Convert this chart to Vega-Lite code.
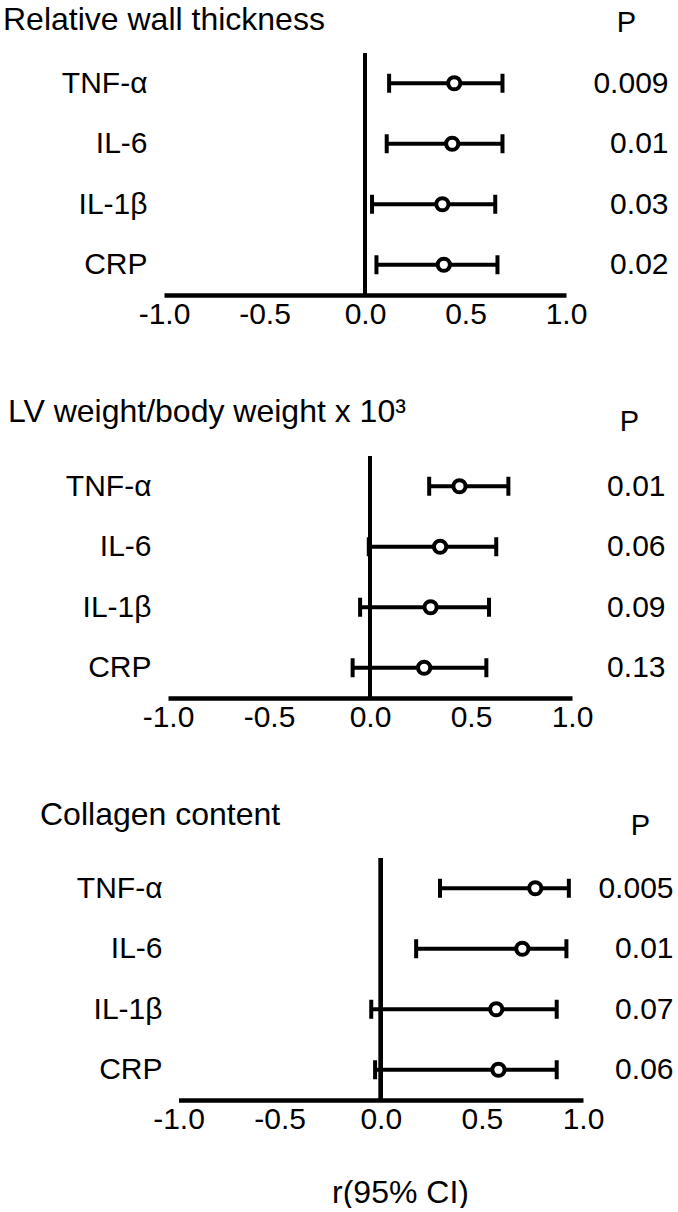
{
  "$schema": "https://vega.github.io/schema/vega-lite/v6.json",
  "padding": {"left": 3, "top": 4, "right": 0, "bottom": 0},
  "config": {
    "font": "Liberation Sans",
    "view": {"stroke": null},
    "axis": {"labelColor": "black", "titleColor": "black", "grid": false, "ticks": false, "labelFont": "Liberation Sans", "titleFont": "Liberation Sans"},
    "title": {"color": "black", "font": "Liberation Sans", "fontWeight": "normal", "fontSize": 32}
  },
  "data": {"values": [
    {"outcome": "rwt", "marker": "TNF-α", "r": 0.444, "lo": 0.12, "hi": 0.684, "p": "0.009"},
    {"outcome": "rwt", "marker": "IL-6", "r": 0.434, "lo": 0.108, "hi": 0.684, "p": "0.01"},
    {"outcome": "rwt", "marker": "IL-1β", "r": 0.385, "lo": 0.035, "hi": 0.648, "p": "0.03"},
    {"outcome": "rwt", "marker": "CRP", "r": 0.392, "lo": 0.057, "hi": 0.659, "p": "0.02"},
    {"outcome": "lvw", "marker": "TNF-α", "r": 0.443, "lo": 0.293, "hi": 0.685, "p": "0.01"},
    {"outcome": "lvw", "marker": "IL-6", "r": 0.347, "lo": -0.006, "hi": 0.625, "p": "0.06"},
    {"outcome": "lvw", "marker": "IL-1β", "r": 0.30, "lo": -0.049, "hi": 0.589, "p": "0.09"},
    {"outcome": "lvw", "marker": "CRP", "r": 0.268, "lo": -0.086, "hi": 0.576, "p": "0.13"},
    {"outcome": "col", "marker": "TNF-α", "r": 0.764, "lo": 0.293, "hi": 0.93, "p": "0.005"},
    {"outcome": "col", "marker": "IL-6", "r": 0.70, "lo": 0.175, "hi": 0.918, "p": "0.01"},
    {"outcome": "col", "marker": "IL-1β", "r": 0.571, "lo": -0.047, "hi": 0.87, "p": "0.07"},
    {"outcome": "col", "marker": "CRP", "r": 0.582, "lo": -0.028, "hi": 0.87, "p": "0.06"}
  ]},
  "vconcat": [
    {
      "transform": [{"filter": "datum.outcome === 'rwt'"}],
      "width": 402, "height": 242,
      "title": {"text": "Relative wall thickness", "anchor": "start", "frame": "group", "dx": -161, "offset": -29},
      "layer": [
        {
          "layer": [
            {"mark": {"type": "rule", "color": "black", "strokeWidth": 4},
             "encoding": {"x": {"datum": 0, "type": "quantitative", "scale": {"domain": [-1, 1], "nice": false, "zero": false, "range": [0, 402]},
               "axis": {"values": [-1, -0.5, 0, 0.5, 1], "labelExpr": "replace(format(datum.value, '.1f'), '−', '-')", "labelFontSize": 30, "labelPadding": 4, "labelFlush": false, "labelOverlap": false, "domainColor": "black", "domainWidth": 4.5, "title": null}}}},
            {"mark": {"type": "rule", "color": "black", "strokeWidth": 4},
             "encoding": {
               "y": {"field": "marker", "type": "nominal", "sort": null, "scale": {"type": "point", "padding": 0.5}, "axis": {"domain": false, "labelFontSize": 30, "labelPadding": 17, "title": null}},
               "x": {"field": "lo", "type": "quantitative", "scale": {"domain": [-1, 1], "nice": false, "zero": false, "range": [0, 402]}},
               "x2": {"field": "hi"}}},
            {"mark": {"type": "tick", "orient": "vertical", "color": "black", "thickness": 4, "size": 19, "opacity": 1},
             "encoding": {"y": {"field": "marker", "type": "nominal", "sort": null}, "x": {"field": "lo", "type": "quantitative", "scale": {"domain": [-1, 1], "nice": false, "zero": false, "range": [0, 402]}}}},
            {"mark": {"type": "tick", "orient": "vertical", "color": "black", "thickness": 4, "size": 19, "opacity": 1},
             "encoding": {"y": {"field": "marker", "type": "nominal", "sort": null}, "x": {"field": "hi", "type": "quantitative", "scale": {"domain": [-1, 1], "nice": false, "zero": false, "range": [0, 402]}}}}
          ]
        },
        {"mark": {"type": "point", "shape": "circle", "filled": false, "fill": "white", "fillOpacity": 1, "stroke": "black", "strokeWidth": 4, "size": 150, "opacity": 1},
         "encoding": {
           "x": {"field": "r", "type": "quantitative", "scale": {"domain": [-1, 1], "nice": false, "zero": false, "range": [0, 402]}},
           "y": {"field": "p", "type": "nominal", "sort": null, "scale": {"type": "point", "padding": 0.5},
             "axis": {"orient": "right", "domain": false, "labelFontSize": 30, "labelAlign": "right", "labelPadding": 102, "title": "P", "titleAngle": 0, "titleFontSize": 29, "titleFontWeight": "normal", "titleX": 60, "titleY": -22, "titleAlign": "center", "titleBaseline": "alphabetic"}}}}
      ],
      "resolve": {"scale": {"y": "independent"}}
    },
    {
      "transform": [{"filter": "datum.outcome === 'lvw'"}],
      "width": 408, "height": 242,
      "title": {"text": "LV weight/body weight x 10³", "anchor": "start", "frame": "group", "dx": -156, "offset": -22},
      "layer": [
        {
          "layer": [
            {"mark": {"type": "rule", "color": "black", "strokeWidth": 4},
             "encoding": {"x": {"datum": 0, "type": "quantitative", "scale": {"domain": [-1, 1], "nice": false, "zero": false, "range": [4, 408]},
               "axis": {"values": [-1, -0.5, 0, 0.5, 1], "labelExpr": "replace(format(datum.value, '.1f'), '−', '-')", "labelFontSize": 30, "labelPadding": 4, "labelFlush": false, "labelOverlap": false, "domainColor": "black", "domainWidth": 4.5, "title": null}}}},
            {"mark": {"type": "rule", "color": "black", "strokeWidth": 4},
             "encoding": {
               "y": {"field": "marker", "type": "nominal", "sort": null, "scale": {"type": "point", "padding": 0.5}, "axis": {"domain": false, "labelFontSize": 30, "labelPadding": 13, "title": null}},
               "x": {"field": "lo", "type": "quantitative", "scale": {"domain": [-1, 1], "nice": false, "zero": false, "range": [4, 408]}},
               "x2": {"field": "hi"}}},
            {"mark": {"type": "tick", "orient": "vertical", "color": "black", "thickness": 4, "size": 19, "opacity": 1},
             "encoding": {"y": {"field": "marker", "type": "nominal", "sort": null}, "x": {"field": "lo", "type": "quantitative", "scale": {"domain": [-1, 1], "nice": false, "zero": false, "range": [4, 408]}}}},
            {"mark": {"type": "tick", "orient": "vertical", "color": "black", "thickness": 4, "size": 19, "opacity": 1},
             "encoding": {"y": {"field": "marker", "type": "nominal", "sort": null}, "x": {"field": "hi", "type": "quantitative", "scale": {"domain": [-1, 1], "nice": false, "zero": false, "range": [4, 408]}}}}
          ]
        },
        {"mark": {"type": "point", "shape": "circle", "filled": false, "fill": "white", "fillOpacity": 1, "stroke": "black", "strokeWidth": 4, "size": 150, "opacity": 1},
         "encoding": {
           "x": {"field": "r", "type": "quantitative", "scale": {"domain": [-1, 1], "nice": false, "zero": false, "range": [4, 408]}},
           "y": {"field": "p", "type": "nominal", "sort": null, "scale": {"type": "point", "padding": 0.5},
             "axis": {"orient": "right", "domain": false, "labelFontSize": 30, "labelAlign": "right", "labelPadding": 93, "title": "P", "titleAngle": 0, "titleFontSize": 29, "titleFontWeight": "normal", "titleX": 57, "titleY": -26, "titleAlign": "center", "titleBaseline": "alphabetic"}}}}
      ],
      "resolve": {"scale": {"y": "independent"}}
    },
    {
      "transform": [{"filter": "datum.outcome === 'col'"}],
      "width": 419, "height": 242,
      "title": {"text": "Collagen content", "anchor": "start", "frame": "group", "dx": -124, "offset": -21},
      "layer": [
        {
          "layer": [
            {"mark": {"type": "rule", "color": "black", "strokeWidth": 4},
             "encoding": {"x": {"datum": 0, "type": "quantitative", "scale": {"domain": [-1, 1], "nice": false, "zero": false, "range": [14.5, 419]},
               "axis": {"values": [-1, -0.5, 0, 0.5, 1], "labelExpr": "replace(format(datum.value, '.1f'), '−', '-')", "labelFontSize": 30, "labelPadding": 4, "labelFlush": false, "labelOverlap": false, "domainColor": "black", "domainWidth": 4.5, "title": "r(95% CI)", "titleFontSize": 32, "titleFontWeight": "normal", "titleX": 236, "titleY": 92, "titleAlign": "center", "titleBaseline": "middle"}}}},
            {"mark": {"type": "rule", "color": "black", "strokeWidth": 4},
             "encoding": {
               "y": {"field": "marker", "type": "nominal", "sort": null, "scale": {"type": "point", "padding": 0.5}, "axis": {"domain": false, "labelFontSize": 30, "labelPadding": 2, "title": null}},
               "x": {"field": "lo", "type": "quantitative", "scale": {"domain": [-1, 1], "nice": false, "zero": false, "range": [14.5, 419]}},
               "x2": {"field": "hi"}}},
            {"mark": {"type": "tick", "orient": "vertical", "color": "black", "thickness": 4, "size": 19, "opacity": 1},
             "encoding": {"y": {"field": "marker", "type": "nominal", "sort": null}, "x": {"field": "lo", "type": "quantitative", "scale": {"domain": [-1, 1], "nice": false, "zero": false, "range": [14.5, 419]}}}},
            {"mark": {"type": "tick", "orient": "vertical", "color": "black", "thickness": 4, "size": 19, "opacity": 1},
             "encoding": {"y": {"field": "marker", "type": "nominal", "sort": null}, "x": {"field": "hi", "type": "quantitative", "scale": {"domain": [-1, 1], "nice": false, "zero": false, "range": [14.5, 419]}}}}
          ]
        },
        {"mark": {"type": "point", "shape": "circle", "filled": false, "fill": "white", "fillOpacity": 1, "stroke": "black", "strokeWidth": 4, "size": 150, "opacity": 1},
         "encoding": {
           "x": {"field": "r", "type": "quantitative", "scale": {"domain": [-1, 1], "nice": false, "zero": false, "range": [14.5, 419]}},
           "y": {"field": "p", "type": "nominal", "sort": null, "scale": {"type": "point", "padding": 0.5},
             "axis": {"orient": "right", "domain": false, "labelFontSize": 30, "labelAlign": "right", "labelPadding": 90, "title": "P", "titleAngle": 0, "titleFontSize": 29, "titleFontWeight": "normal", "titleX": 57, "titleY": -24, "titleAlign": "center", "titleBaseline": "alphabetic"}}}}
      ],
      "resolve": {"scale": {"y": "independent"}}
    }
  ],
  "spacing": 67,
  "align": "each"
}
